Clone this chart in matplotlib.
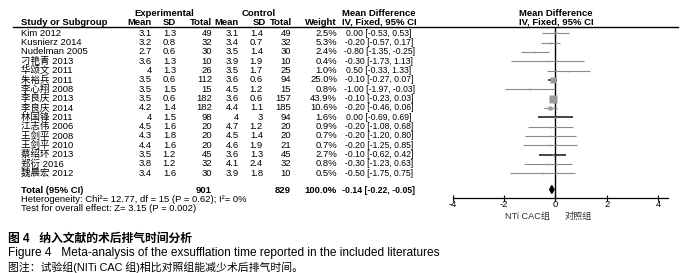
import matplotlib
matplotlib.use("Agg")
import matplotlib.pyplot as plt
from matplotlib.patches import Polygon

plt.rcParams['font.family'] = ['Liberation Sans', 'Noto Sans CJK SC']

# study data
studies = ["Kim 2012", "Kusnierz 2014", "Nudelman 2005", "刁艳青 2013", "华颂文 2011",
           "朱裕兵 2011", "李心翔 2008", "李良庆 2013", "李良庆 2014", "林国锋 2011",
           "江志伟 2006", "王剑平 2008", "王剑平 2010", "蔡绍环 2013", "郑衍 2016",
           "魏晨宏 2012"]
exp_mean = ["3.1", "3.2", "2.7", "3.6", "4", "3.5", "3.5", "3.5", "4.2", "4",
            "4.5", "4.3", "4.4", "3.5", "3.8", "3.4"]
exp_sd = ["1.3", "0.8", "0.6", "1.3", "1.3", "0.6", "1.5", "0.6", "1.4", "1.5",
          "1.6", "1.8", "1.6", "1.2", "1.2", "1.6"]
exp_n = [49, 32, 30, 10, 26, 112, 15, 182, 182, 98, 20, 20, 20, 45, 32, 30]
ctl_mean = ["3.1", "3.4", "3.5", "3.9", "3.5", "3.6", "4.5", "3.6", "4.4", "4",
            "4.7", "4.5", "4.6", "3.6", "4.1", "3.9"]
ctl_sd = ["1.4", "0.7", "1.4", "1.9", "1.7", "0.6", "1.2", "0.6", "1.1", "3",
          "1.2", "1.4", "1.9", "1.3", "2.4", "1.8"]
ctl_n = [49, 32, 30, 10, 25, 94, 15, 157, 185, 94, 20, 20, 21, 45, 32, 10]
weight = [2.5, 5.3, 2.4, 0.4, 1.0, 25.0, 0.8, 43.9, 10.6, 1.6, 0.9, 0.7, 0.7, 2.7, 0.8, 0.5]
md = [0.00, -0.20, -0.80, -0.30, 0.50, -0.10, -1.00, -0.10, -0.20, 0.00,
      -0.20, -0.20, -0.20, -0.10, -0.30, -0.50]
ci_lo = [-0.53, -0.57, -1.35, -1.73, -0.33, -0.27, -1.97, -0.23, -0.46, -0.69,
         -1.08, -1.20, -1.25, -0.62, -1.23, -1.75]
ci_hi = [0.53, 0.17, -0.25, 1.13, 1.33, 0.07, -0.03, 0.03, 0.06, 0.69,
         0.68, 0.80, 0.85, 0.42, 0.63, 0.75]

total_md, total_lo, total_hi = -0.14, -0.22, -0.05
total_exp, total_ctl = 901, 829
ticks = [-4, -2, 0, 2, 4]

fig = plt.figure(figsize=(6.96, 2.73), dpi=100)
ax = fig.add_axes([0, 0, 1, 1])
ax.set_xlim(0, 696)
ax.set_ylim(273, 0)
ax.axis('off')

FS = 6.8
FS_CI = 6.2
row_y0, row_dy = 33.3, 9.33
CI_X = 379
H1, H2 = 13.0, 22.3


def row_y(i):
    return row_y0 + row_dy * i


# headers
ax.text(164, H1, "Experimental", ha='center', va='center', fontsize=FS, fontweight='bold')
ax.text(259, H1, "Control", ha='center', va='center', fontsize=FS, fontweight='bold')
ax.text(CI_X, H1, "Mean Difference", ha='center', va='center', fontsize=FS, fontweight='bold')
ax.text(CI_X, H2, "IV, Fixed, 95% CI", ha='center', va='center', fontsize=FS, fontweight='bold')
ax.text(556, H1, "Mean Difference", ha='center', va='center', fontsize=FS, fontweight='bold')
ax.text(556, H2, "IV, Fixed, 95% CI", ha='center', va='center', fontsize=FS, fontweight='bold')
hdr = [(21, "Study or Subgroup", 'left'), (152, "Mean", 'right'), (176, "SD", 'right'),
       (212, "Total", 'right'), (239, "Mean", 'right'), (266, "SD", 'right'),
       (292, "Total", 'right'), (337, "Weight", 'right')]
for x, s, ha in hdr:
    ax.text(x, H2, s, ha=ha, va='center', fontsize=FS, fontweight='bold')
ax.plot([13, 678], [26.8, 26.8], color='black', lw=1)

# table rows
for i, name in enumerate(studies):
    y = row_y(i)
    ax.text(21, y, name, ha='left', va='center', fontsize=FS)
    ax.text(152, y, exp_mean[i], ha='right', va='center', fontsize=FS)
    ax.text(176, y, exp_sd[i], ha='right', va='center', fontsize=FS)
    ax.text(212, y, str(exp_n[i]), ha='right', va='center', fontsize=FS)
    ax.text(239, y, ctl_mean[i], ha='right', va='center', fontsize=FS)
    ax.text(263, y, ctl_sd[i], ha='right', va='center', fontsize=FS)
    ax.text(291, y, str(ctl_n[i]), ha='right', va='center', fontsize=FS)
    ax.text(337, y, f"{weight[i]:.1f}%", ha='right', va='center', fontsize=FS)
    ax.text(CI_X, y, f"{md[i]:.2f} [{ci_lo[i]:.2f}, {ci_hi[i]:.2f}]",
            ha='center', va='center', fontsize=FS_CI)

yt = 190.3
ax.text(21, yt, "Total (95% CI)", ha='left', va='center', fontsize=FS, fontweight='bold')
ax.text(212, yt, str(total_exp), ha='right', va='center', fontsize=FS, fontweight='bold')
ax.text(291, yt, str(total_ctl), ha='right', va='center', fontsize=FS, fontweight='bold')
ax.text(337, yt, "100.0%", ha='right', va='center', fontsize=FS, fontweight='bold')
ax.text(CI_X, yt, f"{total_md:.2f} [{total_lo:.2f}, {total_hi:.2f}]",
        ha='center', va='center', fontsize=FS_CI, fontweight='bold')
ax.text(21, 199.5, "Heterogeneity: Chi²= 12.77, df = 15 (P = 0.62); I²= 0%",
        ha='left', va='center', fontsize=FS)
ax.text(21, 208.8, "Test for overall effect: Z= 3.15 (P = 0.002)",
        ha='left', va='center', fontsize=FS)

# forest plot
left, right, top, bottom = 452.7, 668.3, 27, 198.3
fx = fig.add_axes([left / 696, 1 - bottom / 273, (right - left) / 696, (bottom - top) / 273])
fx.patch.set_alpha(0)
fx.set_xlim(-4, 4.4)
ytop = (top - row_y0) / row_dy
ybot = (bottom - row_y0) / row_dy
fx.set_ylim(ybot, ytop)
for s in ['top', 'right', 'left']:
    fx.spines[s].set_visible(False)
fx.spines['bottom'].set_linewidth(0.9)
fx.set_yticks([])
fx.set_xticks(ticks)
fx.set_xticklabels([str(t) for t in ticks], fontsize=FS)
fx.tick_params(axis='x', direction='inout', length=5, width=0.8, pad=-1)
fx.axvline(0, color='black', lw=1)

dark_rows = {5, 9, 13}
for i in range(len(studies)):
    c = '#111111' if i in dark_rows else '#8a8a8a'
    lw = 1.1 if i in dark_rows else 0.8
    fx.plot([ci_lo[i], ci_hi[i]], [i, i], color=c, lw=lw, solid_capstyle='butt')
    ms = max(1.2, 0.78 * weight[i] ** 0.5)
    fx.plot(md[i], i, marker='s', ms=ms, color='#9a9a9a', mec='none')

yd = (189.5 - row_y0) / row_dy
h = 0.42
fx.add_patch(Polygon([(total_lo, yd), (total_md, yd - h), (total_hi, yd), (total_md, yd + h)],
                     closed=True, color='black'))

ax.text(550, 216, "NTi CAC组", ha='right', va='center', fontsize=6.6, color='#333333')
ax.text(565, 216, "对照组", ha='left', va='center', fontsize=6.6, color='#333333')

# caption
ax.text(8, 238.5, "图 4   纳入文献的术后排气时间分析", ha='left', va='center', fontsize=8.5,
        fontweight='bold')
ax.text(8, 253, "Figure 4   Meta-analysis of the exsufflation time reported in the included literatures",
        ha='left', va='center', fontsize=8.6)
ax.text(8, 267, "图注：试验组(NITi CAC 组)相比对照组能减少术后排气时间。", ha='left', va='center',
        fontsize=7.8)

fig.savefig("out.png", dpi=100)
